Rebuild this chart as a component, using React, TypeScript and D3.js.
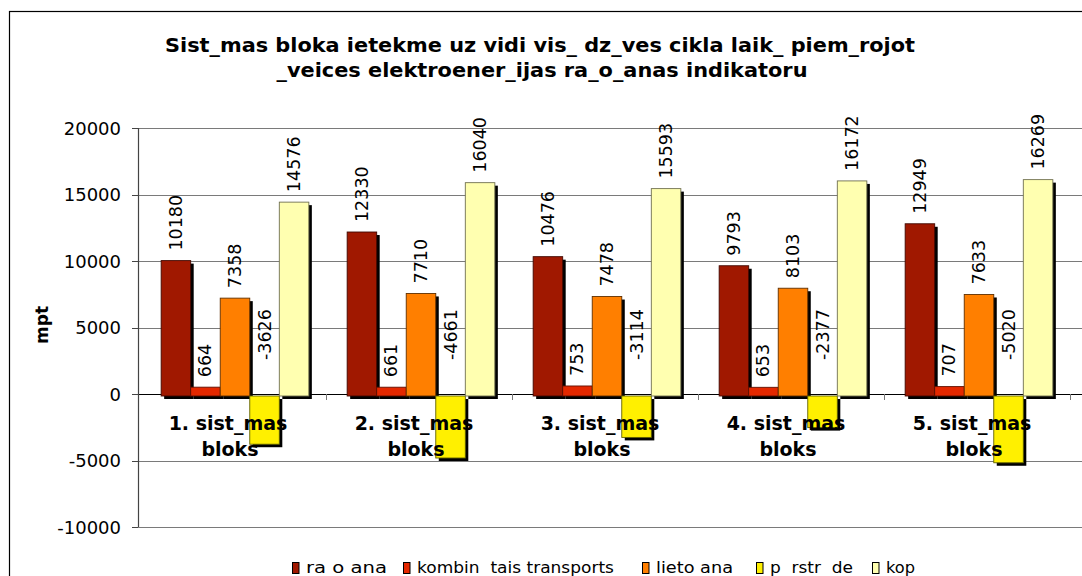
import React from "react";
import { scaleLinear, scaleBand } from "d3";

const categories = ["1. sist_mas bloks", "2. sist_mas bloks", "3. sist_mas bloks", "4. sist_mas bloks", "5. sist_mas bloks"];
const seriesNames = ["ra o ana", "kombin  tais transports", "lieto ana", "p  rstr  de", "kop"];
const razosana = [10180, 12330, 10476, 9793, 12949];
const kombinetais = [664, 661, 753, 653, 707];
const lietosana = [7358, 7710, 7478, 8103, 7633];
const parstrade = [-3626, -4661, -3114, -2377, -5020];
const kopa = [14576, 16040, 15593, 16172, 16269];
const yTicks = [-10000, -5000, 0, 5000, 10000, 15000, 20000];

const series = [razosana, kombinetais, lietosana, parstrade, kopa];
const colors = ["#A01800", "#E42800", "#FF7F00", "#FFF000", "#FFFFB0"];
const strokes = ["#400800", "#601000", "#603000", "#606000", "#707050"];

// legend layout (swatch x, text length)
const legendX = [292, 403, 642, 756, 872];
const legendLen = [81, 197, 77, 83, 29];

const W = 1082;
const H = 576;
const left = 138;
const right = 1068;
const top = 128;
const bottom = 527;
const font = "'DejaVu Sans', Verdana, sans-serif";

export default function App() {
  const y = scaleLinear().domain([-10000, 20000]).range([bottom, top]);
  const x = scaleBand().domain(categories).range([left, right]).padding(0);
  const bw = x.bandwidth();
  const inner = scaleBand()
    .domain(seriesNames)
    .range([bw * 0.103, bw * 0.897])
    .padding(0);
  const dx = 4;
  const dy = 2;
  const y0 = y(0);

  return (
    <svg width={W} height={H} style={{ position: "absolute", left: 0, top: 0, background: "#fff" }}>
      <rect x={9.5} y={11.5} width={1100} height={600} fill="#fff" stroke="#000" strokeWidth={1.2} />

      {/* title */}
      <text x={540} y={52} textAnchor="middle" fontFamily={font} fontWeight="bold" fontSize={19}
        textLength={750} lengthAdjust="spacingAndGlyphs">
        Sist_mas bloka ietekme uz vidi vis_ dz_ves cikla laik_ piem_rojot
      </text>
      <text x={542} y={77} textAnchor="middle" fontFamily={font} fontWeight="bold" fontSize={19}
        textLength={531} lengthAdjust="spacingAndGlyphs">
        _veices elektroener_ijas ra_o_anas indikatoru
      </text>

      {/* grid */}
      {yTicks.map((t) => (
        <g key={t}>
          <line x1={left} x2={W} y1={Math.round(y(t)) + 0.5} y2={Math.round(y(t)) + 0.5}
            stroke={t === 0 ? "#000" : "#7a7a7a"} strokeWidth={t === 0 ? 1.2 : 1} />
          <line x1={left - 6} x2={left} y1={Math.round(y(t)) + 0.5} y2={Math.round(y(t)) + 0.5} stroke="#444" />
          <text x={left - 17} y={y(t) + 6.5} textAnchor="end" fontFamily={font} fontSize={18} fill="#000">
            {t}
          </text>
        </g>
      ))}
      <line x1={left + 0.5} x2={left + 0.5} y1={top} y2={bottom} stroke="#444" strokeWidth={1.2} />

      {/* category ticks */}
      {categories.map((c) => (
        <line key={c} x1={x(c)! + bw + 2.5} x2={x(c)! + bw + 2.5} y1={y0} y2={y0 + 6} stroke="#777" />
      ))}

      {/* bars */}
      {categories.map((c, ci) => (
        <g key={c}>
          {series.map((vals, si) => {
            const v = vals[ci];
            const bx = x(c)! + inner(seriesNames[si])! + dx;
            const w = inner.bandwidth();
            const yTop = Math.min(y(v), y0) + dy;
            const h = Math.abs(y(v) - y0);
            return (
              <g key={si}>
                <rect x={bx + 3} y={yTop + 3} width={w} height={h} fill="#000" />
                <rect x={bx} y={yTop} width={w} height={h} fill={colors[si]} stroke={strokes[si]} strokeWidth={0.9} />
              </g>
            );
          })}
        </g>
      ))}

      {/* value labels */}
      {categories.map((c, ci) => (
        <g key={c}>
          {series.map((vals, si) => {
            const v = vals[ci];
            const cx = x(c)! + inner(seriesNames[si])! + dx + inner.bandwidth() / 2;
            const ly = v >= 0 ? y(v) + dy - 10 : y0 - 34;
            return (
              <text key={si} transform={`translate(${cx + 6},${ly}) rotate(-90)`} fontFamily={font}
                fontSize={17.5} fill="#000">
                {v}
              </text>
            );
          })}
        </g>
      ))}

      {/* category labels */}
      {categories.map((c) => {
        const cx = x(c)! + bw / 2 - 3;
        const parts = c.split(" ");
        return (
          <text key={c} textAnchor="middle" fontFamily={font} fontWeight="bold" fontSize={19} fill="#000">
            <tspan x={cx} y={430}>{parts[0] + " " + parts[1]}</tspan>
            <tspan x={cx + 2} y={456}>{parts[2]}</tspan>
          </text>
        );
      })}

      {/* y axis title */}
      <text transform="translate(48,325) rotate(-90)" textAnchor="middle" fontFamily={font} fontWeight="bold"
        fontSize={17}>
        mpt
      </text>

      {/* legend */}
      {seriesNames.map((n, i) => (
        <g key={n}>
          <rect x={legendX[i] + 0.5} y={562.5} width={6.5} height={11} fill={colors[i]} stroke="#000" strokeWidth={1} />
          <text x={legendX[i] + 14} y={573} fontFamily={font} fontSize={15.5} textLength={legendLen[i]}
            lengthAdjust="spacingAndGlyphs" style={{ whiteSpace: "pre" }}>
            {n}
          </text>
        </g>
      ))}
    </svg>
  );
}
